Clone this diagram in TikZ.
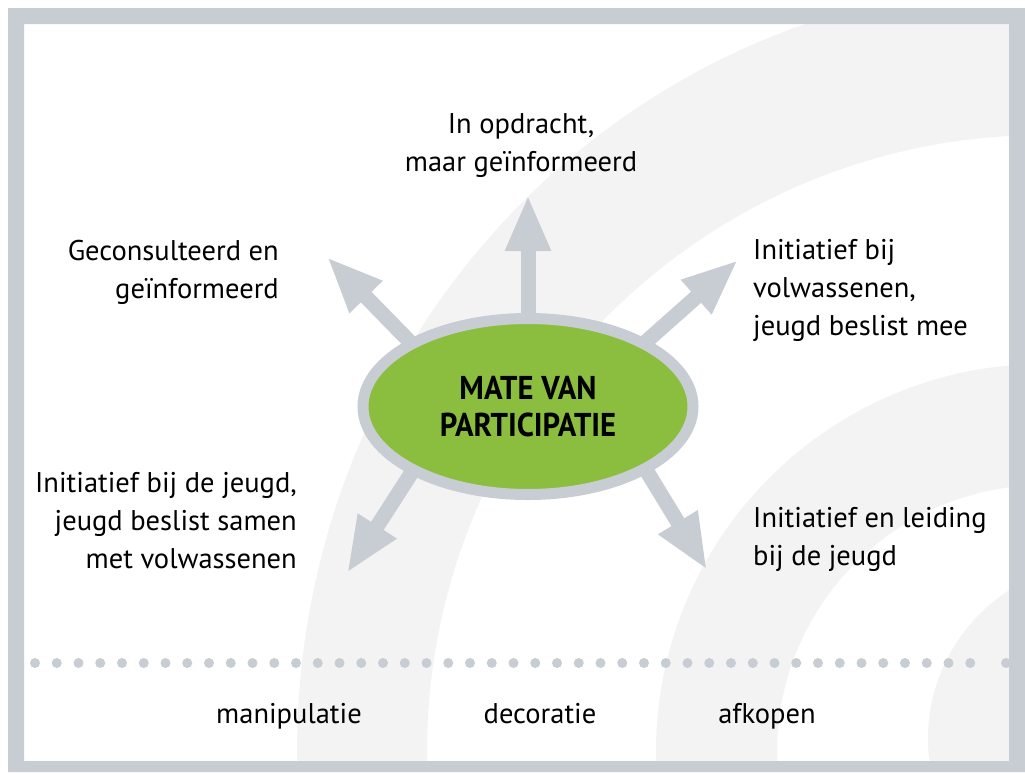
\documentclass[tikz,border=0pt]{standalone}
\usepackage{fontspec}
\setmainfont{PT Sans}
\newfontfamily\corefont[FakeStretch=0.93]{PT Sans}
\usetikzlibrary{shapes,arrows.meta}
\usetikzlibrary{positioning,calc}
\definecolor{framegray}{RGB}{200,204,211}
\definecolor{ringgray}{RGB}{243,243,243}
\definecolor{matgreen}{RGB}{139,190,63}
\pgfdeclarelayer{back}
\pgfdeclarelayer{spokes}
\pgfsetlayers{back,spokes,main}
\tikzstyle{core} = [ellipse, draw=framegray, fill=matgreen, line width=11pt,
    minimum width=330pt, minimum height=176pt, inner sep=0pt, align=center,
    font=\corefont\fontsize{33}{37}\selectfont\bfseries]
\tikzstyle{choice} = [font=\fontsize{28.5}{38}\selectfont, inner sep=0pt]
\tikzstyle{spoke} = [draw=framegray, line width=15pt,
    -{Triangle[length=56pt,width=42pt]}]
\tikzstyle{ring} = [fill=ringgray, even odd rule]
\tikzstyle{bead} = [circle, fill=framegray, inner sep=0pt, minimum size=10pt]

\begin{document}
\begin{tikzpicture}[x=1pt, y=-1pt]
    \useasboundingbox (0,0) rectangle (1025,772);
    % Background, rings and frame
    \begin{pgfonlayer}{back}
        \fill[white] (0,0) rectangle (1025,772);
        \begin{scope}
            \clip (24,24) rectangle (1009,761);
            \path[ring] (1044,752) ellipse [x radius=747, y radius=768]
                (1044,752) circle [radius=617];
            \path[ring] (1044,752) circle [radius=388]
                (1044,752) circle [radius=267];
            \fill[ringgray] (1105,739) circle [radius=177];
        \end{scope}
        \foreach \i in {0,...,43}
            \node[bead] at (35+21.75*\i, 663) {};
        \node[bead] at (1006,663) {};
        \fill[framegray, even odd rule] (8,8) rectangle (1025,772)
            (24,24) rectangle (1009,761);
    \end{pgfonlayer}

    % Place nodes
    \node[core] (mate) at (528,406.5) {MATE VAN\\PARTICIPATIE};
    \node[choice, align=center] (opdracht) at (521,146) {In opdracht,\\maar geïnformeerd};
    \node[choice, align=right, anchor=east] (consult) at (279,272) {Geconsulteerd en\\geïnformeerd};
    \node[choice, align=left, anchor=west] (mee) at (753,290) {Initiatief bij\\volwassenen,\\jeugd beslist mee};
    \node[choice, align=right, anchor=east] (samen) at (297,521) {Initiatief bij de jeugd,\\jeugd beslist samen\\met volwassenen};
    \node[choice, align=left, anchor=west] (leiding) at (753,539) {Initiatief en leiding\\bij de jeugd};
    \node[choice, anchor=base] (manip) at (289,723) {manipulatie};
    \node[choice, anchor=base] (deco) at (540,723) {decoratie};
    \node[choice, anchor=base] (afkoop) at (767,723) {afkopen};

    \coordinate (tN) at (528,195);
    \coordinate (tNE) at (738,260);
    \coordinate (tNW) at (327,257);
    \coordinate (tSW) at (347,573);
    \coordinate (tSE) at (707,570);

    % Draw edges
    \begin{pgfonlayer}{spokes}
        \draw[spoke] ($(mate.90)!-15pt!(tN)$) -- (tN);
        \draw[spoke] ($(mate.29)!-15pt!(tNE)$) -- (tNE);
        \draw[spoke] ($(mate.151)!-15pt!(tNW)$) -- (tNW);
        \draw[spoke] ($(mate.210)!-15pt!(tSW)$) -- (tSW);
        \draw[spoke] ($(mate.331)!-15pt!(tSE)$) -- (tSE);
    \end{pgfonlayer}
\end{tikzpicture}
\end{document}
